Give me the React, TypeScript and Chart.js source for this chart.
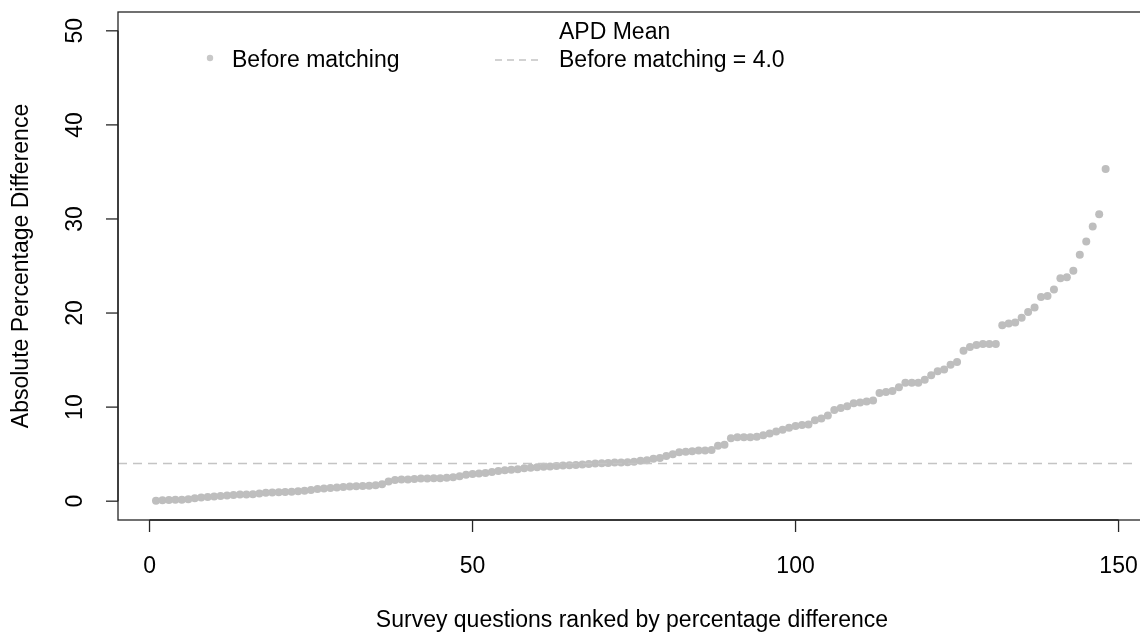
import React, { useEffect, useRef } from "react";
import { Chart, registerables } from "chart.js";

Chart.register(...registerables);

// Ranked absolute percentage differences (question rank 1..148)
const apdValues: number[] = [
  0.05, 0.1, 0.12, 0.14, 0.15, 0.2, 0.3, 0.4, 0.45, 0.5,
  0.55, 0.6, 0.65, 0.7, 0.72, 0.75, 0.82, 0.9, 0.92, 0.95,
  0.98, 1.0, 1.05, 1.1, 1.2, 1.3, 1.35, 1.4, 1.45, 1.5,
  1.55, 1.6, 1.62, 1.65, 1.7, 1.8, 2.1, 2.25, 2.3, 2.3,
  2.35, 2.4, 2.4, 2.45, 2.45, 2.5, 2.55, 2.65, 2.8, 2.9,
  2.95, 3.0, 3.1, 3.2, 3.3, 3.35, 3.4, 3.5, 3.55, 3.6,
  3.65, 3.7, 3.75, 3.8, 3.82, 3.85, 3.9, 3.95, 4.0, 4.02,
  4.05, 4.1, 4.12, 4.15, 4.2, 4.3, 4.35, 4.5, 4.6, 4.8,
  5.0, 5.2, 5.25, 5.3, 5.4, 5.4, 5.45, 5.9, 6.0, 6.7,
  6.8, 6.8, 6.8, 6.85, 7.0, 7.2, 7.4, 7.6, 7.8, 8.0,
  8.1, 8.15, 8.6, 8.8, 9.1, 9.7, 9.9, 10.1, 10.4, 10.5,
  10.6, 10.7, 11.5, 11.6, 11.7, 12.1, 12.6, 12.6, 12.6, 12.9,
  13.4, 13.8, 14.0, 14.5, 14.8, 16.0, 16.4, 16.6, 16.7, 16.7,
  16.7, 18.7, 18.9, 19.0, 19.5, 20.1, 20.6, 21.7, 21.8, 22.5,
  23.7, 23.8, 24.5, 26.2, 27.6, 29.2, 30.5, 35.3,
];
const meanBefore = 4.0;
const xTicks: number[] = [0, 50, 100, 150];
const yTicks: number[] = [0, 10, 20, 30, 40, 50];
const xRange: [number, number] = [-4.88, 152.7];
const yRange: [number, number] = [-2, 52];

const xTitle = "Survey questions ranked by percentage difference";
const yTitle = "Absolute Percentage Difference";
const legendSeries = "Before matching";
const legendTitle = "APD Mean";
const legendMean = `Before matching = ${meanBefore.toFixed(1)}`;

const FONT = '23px "Liberation Sans", Arial, Helvetica, sans-serif';
const POINT_COLOR = "#bebebe";
const LINE_COLOR = "#c4c4c4";
const AXIS_COLOR = "#262626";

const rAxesPlugin = {
  id: "rAxes",
  afterDraw(chart: any) {
    const { ctx, chartArea, scales } = chart;
    const xs = scales.x;
    const ys = scales.y;
    ctx.save();
    ctx.strokeStyle = AXIS_COLOR;
    ctx.lineWidth = 1.3;
    // box (right side lies beyond the canvas)
    ctx.strokeRect(chartArea.left, chartArea.top, chartArea.right - chartArea.left + 10, chartArea.bottom - chartArea.top);

    ctx.fillStyle = "#000";
    ctx.font = FONT;
    // x axis
    ctx.beginPath();
    ctx.moveTo(xs.getPixelForValue(xTicks[0]), chartArea.bottom);
    ctx.lineTo(xs.getPixelForValue(xTicks[xTicks.length - 1]), chartArea.bottom);
    ctx.stroke();
    ctx.textAlign = "center";
    ctx.textBaseline = "middle";
    for (const v of xTicks) {
      const px = xs.getPixelForValue(v);
      ctx.beginPath();
      ctx.moveTo(px, chartArea.bottom);
      ctx.lineTo(px, chartArea.bottom + 12);
      ctx.stroke();
      ctx.fillText(String(v), px, chartArea.bottom + 47);
    }
    ctx.fillText(xTitle, (chartArea.left + 1146) / 2, chartArea.bottom + 101);

    // y axis
    ctx.beginPath();
    ctx.moveTo(chartArea.left, ys.getPixelForValue(yTicks[0]));
    ctx.lineTo(chartArea.left, ys.getPixelForValue(yTicks[yTicks.length - 1]));
    ctx.stroke();
    for (const v of yTicks) {
      const py = ys.getPixelForValue(v);
      ctx.beginPath();
      ctx.moveTo(chartArea.left, py);
      ctx.lineTo(chartArea.left - 12, py);
      ctx.stroke();
      ctx.save();
      ctx.translate(chartArea.left - 42, py);
      ctx.rotate(-Math.PI / 2);
      ctx.fillText(String(v), 0, 0);
      ctx.restore();
    }
    ctx.save();
    ctx.translate(22, (chartArea.top + chartArea.bottom) / 2);
    ctx.rotate(-Math.PI / 2);
    ctx.fillText(yTitle, 0, 0);
    ctx.restore();

    // legend
    ctx.textAlign = "left";
    ctx.fillStyle = "#c8c8c8";
    ctx.beginPath();
    ctx.arc(210, 58, 3.2, 0, Math.PI * 2);
    ctx.fill();
    ctx.fillStyle = "#000";
    ctx.fillText(legendSeries, 232, 61);
    ctx.fillText(legendTitle, 559, 33);
    ctx.fillText(legendMean, 559, 61);
    ctx.strokeStyle = LINE_COLOR;
    ctx.lineWidth = 1.3;
    ctx.setLineDash([7, 5]);
    ctx.beginPath();
    ctx.moveTo(495, 60);
    ctx.lineTo(540, 60);
    ctx.stroke();
    ctx.setLineDash([]);
    ctx.restore();
  },
};

export default function App() {
  const ref = useRef<HTMLCanvasElement | null>(null);
  useEffect(() => {
    if (!ref.current) return;
    const points = apdValues.map((v, i) => ({ x: i + 1, y: v }));
    const chart = new Chart(ref.current, {
      type: "scatter",
      data: {
        datasets: [
          {
            type: "line",
            label: "mean",
            data: [
              { x: xRange[0], y: meanBefore },
              { x: xRange[1], y: meanBefore },
            ],
            borderColor: LINE_COLOR,
            borderWidth: 1.4,
            borderDash: [9, 6],
            pointRadius: 0,
            fill: false,
            order: 0,
          } as any,
          {
            label: legendSeries,
            data: points,
            backgroundColor: POINT_COLOR,
            borderWidth: 0,
            pointRadius: 4,
            pointHoverRadius: 4,
            order: 1,
          },
        ],
      },
      options: {
        responsive: false,
        animation: false,
        events: [],
        layout: { padding: { left: 118, top: 12, right: 0, bottom: 115 } },
        plugins: { legend: { display: false }, tooltip: { enabled: false } },
        scales: {
          x: { type: "linear", min: xRange[0], max: xRange[1], display: false },
          y: { type: "linear", min: yRange[0], max: yRange[1], display: false },
        },
      },
      plugins: [rAxesPlugin],
    });
    return () => chart.destroy();
  }, []);
  return (
    <div style={{ position: "absolute", left: 0, top: 0, width: 1140, height: 635, background: "#fff" }}>
      <canvas ref={ref} width={1140} height={635} style={{ display: "block" }} />
    </div>
  );
}
